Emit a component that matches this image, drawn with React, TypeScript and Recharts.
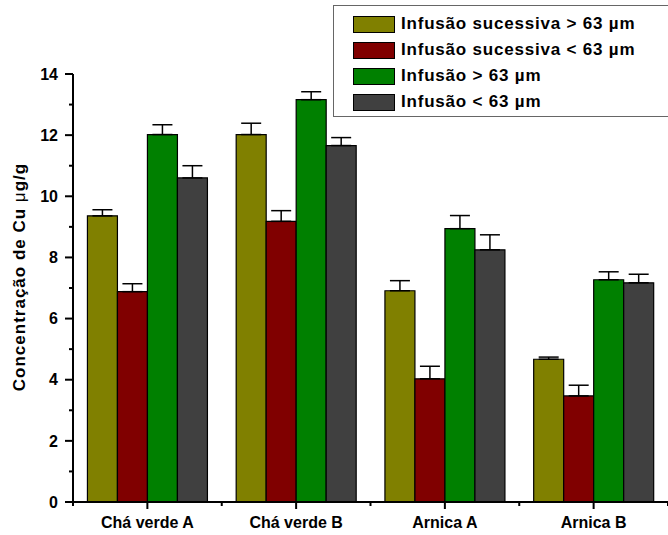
import React from "react";
import { BarChart, Bar, XAxis, YAxis, ErrorBar, Legend } from "recharts";

// data
const categories = ["Chá verde A", "Chá verde B", "Arnica A", "Arnica B"];

const sucessivaMaior = [9.36, 12.02, 6.91, 4.67];
const sucessivaMaiorErr = [0.2, 0.37, 0.33, 0.07];
const sucessivaMenor = [6.88, 9.18, 4.03, 3.47];
const sucessivaMenorErr = [0.26, 0.35, 0.41, 0.35];
const infusaoMaior = [12.02, 13.16, 8.94, 7.27];
const infusaoMaiorErr = [0.32, 0.26, 0.43, 0.26];
const infusaoMenor = [10.6, 11.66, 8.25, 7.17];
const infusaoMenorErr = [0.4, 0.26, 0.49, 0.28];

const yTicks = [0, 1, 2, 3, 4, 5, 6, 7, 8, 9, 10, 11, 12, 13, 14];
const yLabeled = [0, 2, 4, 6, 8, 10, 12, 14];

const series = [
  { key: "sMaior", name: "Infusão sucessiva > 63 µm", color: "#808000" },
  { key: "sMenor", name: "Infusão sucessiva < 63 µm", color: "#800000" },
  { key: "iMaior", name: "Infusão > 63 µm", color: "#008000" },
  { key: "iMenor", name: "Infusão < 63 µm", color: "#404040" },
];

const data = categories.map((c, i) => ({
  name: c,
  sMaior: sucessivaMaior[i],
  sMaiorErr: [0, sucessivaMaiorErr[i]],
  sMenor: sucessivaMenor[i],
  sMenorErr: [0, sucessivaMenorErr[i]],
  iMaior: infusaoMaior[i],
  iMaiorErr: [0, infusaoMaiorErr[i]],
  iMenor: infusaoMenor[i],
  iMenorErr: [0, infusaoMenorErr[i]],
}));

const W = 668;
const H = 535;
const Y_AXIS_W = 73;
const BAND = (W - Y_AXIS_W) / categories.length;
const FONT = "'Liberation Sans', Arial, Helvetica, sans-serif";

const YTick = (props: any) => {
  const { x, y, payload } = props;
  const major = yLabeled.includes(payload.value);
  return (
    <g>
      <line x1={x - (major ? 8 : 4)} x2={x} y1={y} y2={y} stroke="#000" strokeWidth={2} />
      {major && (
        <text x={x - 15} y={y} dy="0.36em" textAnchor="end" fontFamily={FONT} fontWeight="bold" fontSize={16} fill="#000">
          {payload.value}
        </text>
      )}
    </g>
  );
};

const XTick = (props: any) => {
  const { x, y, payload, index } = props;
  const last = index === categories.length - 1;
  return (
    <g>
      <line x1={x} x2={x} y1={y} y2={y + 7} stroke="#000" strokeWidth={2} />
      <line x1={x - BAND / 2} x2={x - BAND / 2} y1={y} y2={y + 4} stroke="#000" strokeWidth={2} />
      {last && <line x1={x + BAND / 2} x2={x + BAND / 2} y1={y} y2={y + 4} stroke="#000" strokeWidth={2} />}
      <text x={x} y={y + 26} textAnchor="middle" fontFamily={FONT} fontWeight="bold" fontSize={16} fill="#000">
        {payload.value}
      </text>
    </g>
  );
};

const YLabel = () => (
  <text
    x={19}
    y={277}
    transform="rotate(-90 19 277)"
    textAnchor="middle"
    dominantBaseline="central"
    fontFamily={FONT}
    fontWeight="bold"
    fontSize={17}
    letterSpacing={1}
    fill="#000"
  >
    Concentração de Cu <tspan fontWeight="normal">μ</tspan>g/g
  </text>
);

const LegendBox = () => (
  <div
    style={{
      border: "1.5px solid #666",
      background: "#fff",
      width: 340,
      height: 112,
      boxSizing: "border-box",
      paddingTop: 5,
      paddingLeft: 19,
    }}
  >
    {series.map((s) => (
      <div key={s.key} style={{ display: "flex", alignItems: "center", height: 26 }}>
        <div style={{ width: 40, height: 15, background: s.color, border: "1px solid #000" }} />
        <span
          style={{
            marginLeft: 6,
            fontFamily: FONT,
            fontWeight: "bold",
            fontSize: 17,
            letterSpacing: 0.8,
            color: "#000",
            whiteSpace: "nowrap",
          }}
        >
          {s.name}
        </span>
      </div>
    ))}
  </div>
);

export default function App() {
  return (
    <div style={{ position: "absolute", left: 0, top: 0, width: W, height: H, overflow: "hidden", background: "#fff" }}>
      <BarChart
        width={W}
        height={H}
        data={data}
        margin={{ top: 74, right: 0, bottom: 0, left: 0 }}
        barCategoryGap="9.7%"
        barGap={0}
      >
        <XAxis
          dataKey="name"
          height={33}
          tickSize={0}
          tickMargin={0}
          tickLine={false}
          tick={<XTick />}
          interval={0}
          axisLine={{ stroke: "#000", strokeWidth: 2 }}
        />
        <YAxis
          width={Y_AXIS_W}
          domain={[0, 14]}
          ticks={yTicks}
          interval={0}
          tickSize={0}
          tickMargin={0}
          tickLine={false}
          tick={<YTick />}
          axisLine={{ stroke: "#000", strokeWidth: 2 }}
          label={<YLabel />}
        />
        <Legend
          layout="vertical"
          align="center"
          verticalAlign="middle"
          wrapperStyle={{ top: 5, left: 333, width: 340 }}
          content={<LegendBox />}
        />
        {series.map((s) => (
          <Bar key={s.key} dataKey={s.key} name={s.name} fill={s.color} stroke="#000" strokeWidth={1.2} isAnimationActive={false}>
            <ErrorBar dataKey={s.key + "Err"} width={10} stroke="#000" strokeWidth={1.5} direction="y" />
          </Bar>
        ))}
      </BarChart>
    </div>
  );
}
